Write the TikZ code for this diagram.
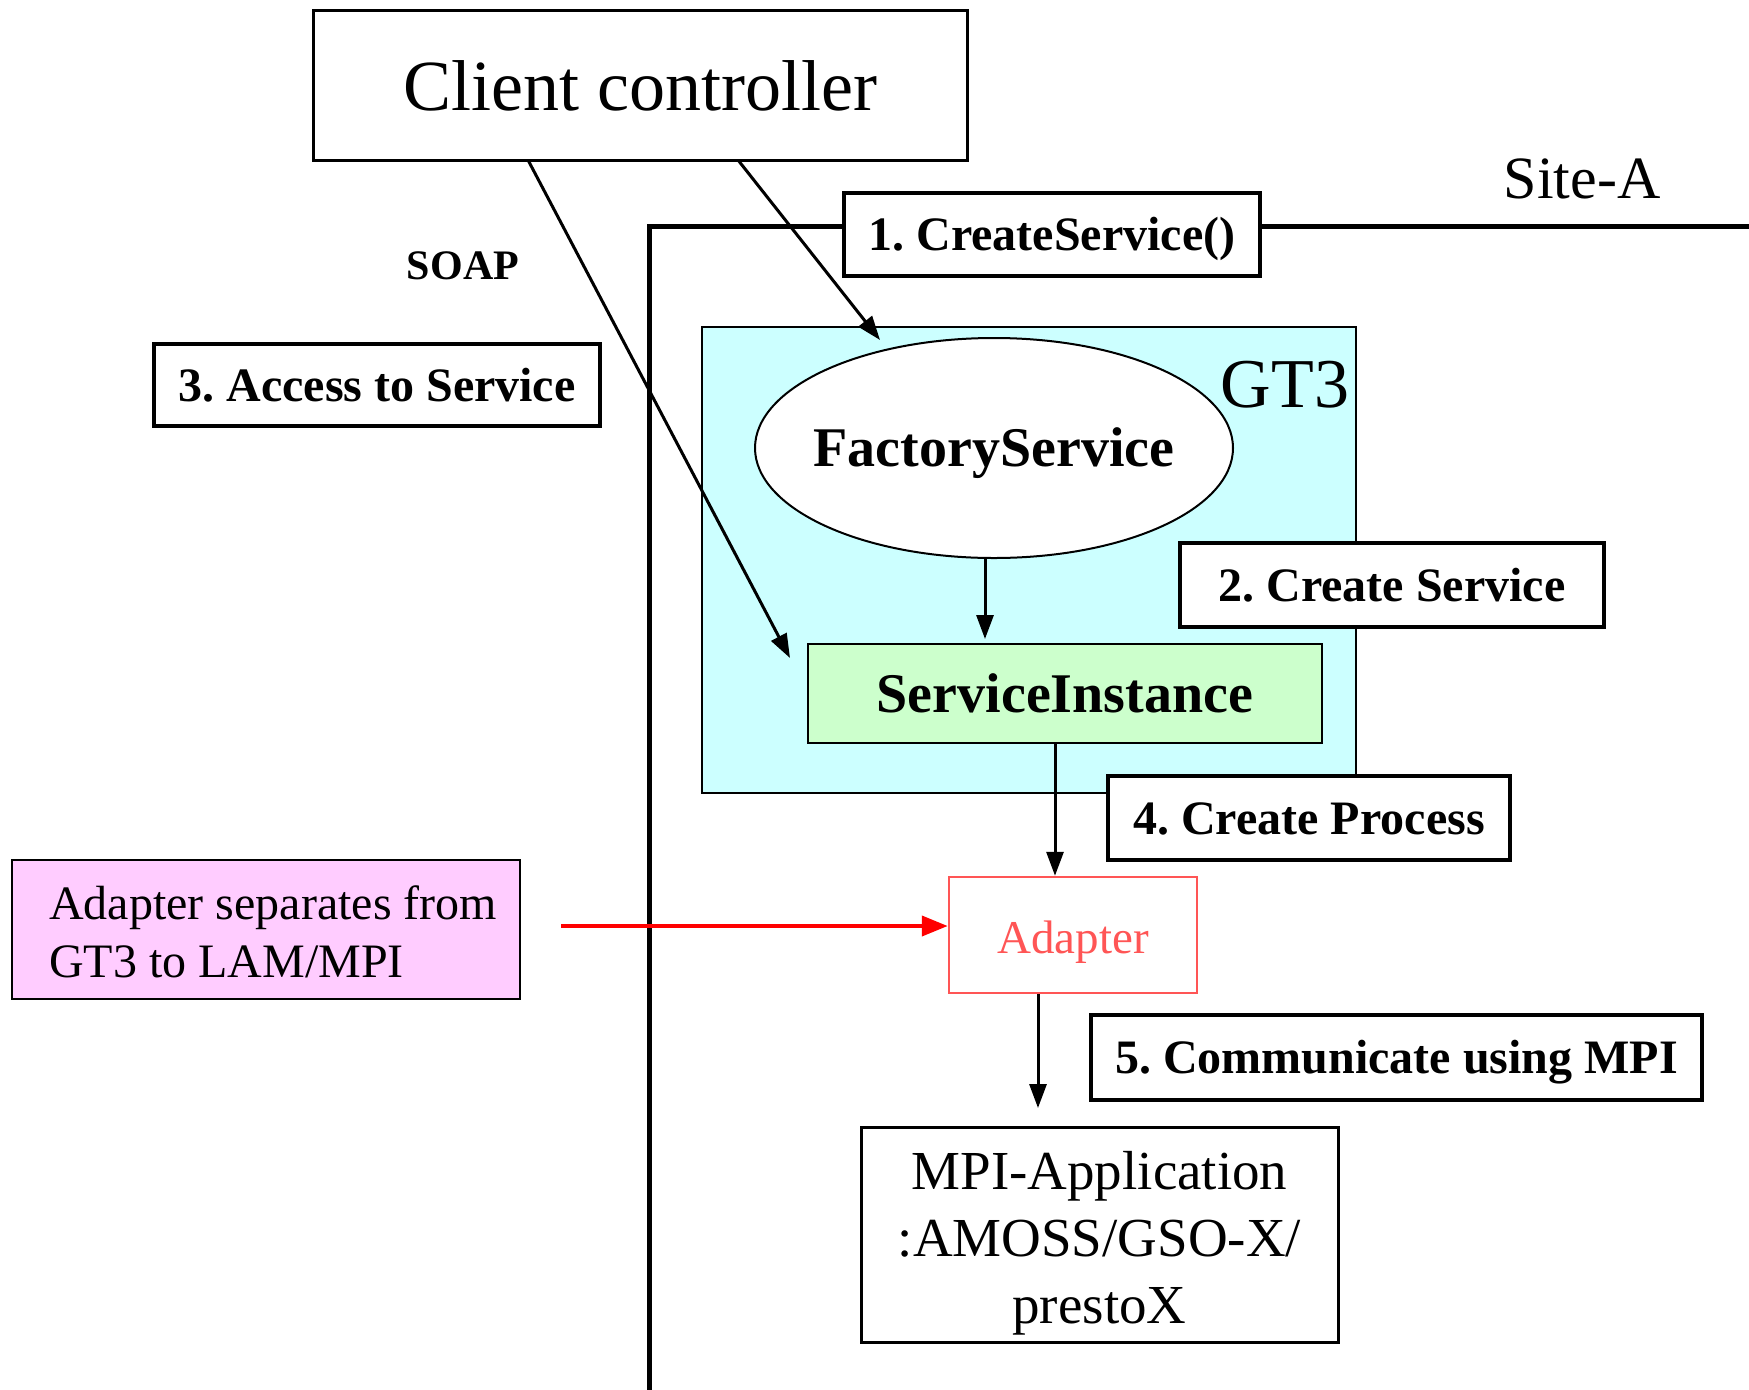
\documentclass[tikz,border=0pt]{standalone}
\usepackage{fontspec}
\setmainfont{Liberation Serif}
\usetikzlibrary{arrows.meta,shapes.geometric}
\definecolor{gtcyan}{HTML}{CCFFFF}
\definecolor{sigreen}{HTML}{CCFFCC}
\definecolor{notepink}{HTML}{FFCCFF}
\definecolor{adred}{HTML}{FF5555}
\frenchspacing
\tikzset{
  capc/.style={text height=#1, text depth=0pt},
  lblbox/.style={draw, line width=4pt, fill=white, inner sep=0pt, capc=32pt,
    font=\bfseries\fontsize{48}{58}\selectfont},
  notetxt/.style={anchor=base west, inner sep=0pt, font=\fontsize{48}{58}\selectfont},
  arr/.style={line width=3pt, -{Triangle[length=24pt,width=17pt]}},
  redarr/.style={line width=4pt, red, -{Triangle[length=26pt,width=20pt]}},
}
\begin{document}
\begin{tikzpicture}[x=1pt,y=-1pt]
\useasboundingbox (0,0) rectangle (1749,1390);
% site frame
\draw[line width=5pt] (649,1395) -- (649,226) -- (1755,226);
\node[capc=40pt, font=\fontsize{60}{72}\selectfont] (siteA) at (1582,178) {Site-A};
% client controller
\node[draw, line width=3pt, fill=white, minimum width=654pt, minimum height=150pt, inner sep=0pt] (cc) at (640,85) {};
\node[capc=47.5pt, font=\fontsize{72}{86}\selectfont] (cctext) at (640,87) {Client controller};
\node[capc=28pt, font=\bfseries\fontsize{42}{50}\selectfont] (soap) at (463,265) {SOAP};
\node[lblbox, minimum width=416pt, minimum height=83pt] (lab1) at (1052,234.5) {1. CreateService()};
\node[lblbox, minimum width=446pt, minimum height=82pt] (lab3) at (377,385) {3. Access to Service};
% GT3 container
\node[draw, line width=2pt, fill=gtcyan, minimum width=654pt, minimum height=466pt, inner sep=0pt] (gt3) at (1029,560) {};
\node[capc=46pt, font=\fontsize{70}{84}\selectfont] (gt3lab) at (1285,384) {GT3};
\node[draw, ellipse, line width=2pt, fill=white, minimum width=478pt, minimum height=220pt, inner sep=0pt] (fs) at (994,448) {};
\node[capc=37pt, font=\bfseries\fontsize{56}{67}\selectfont] (fstext) at (fs.center) {FactoryService};
\node[lblbox, minimum width=424pt, minimum height=84pt] (lab2) at (1392,585) {2. Create Service};
\node[draw, line width=2.5pt, fill=sigreen, minimum width=514pt, minimum height=99pt, inner sep=0pt,
  capc=37pt, font=\bfseries\fontsize{56}{67}\selectfont] (si) at (1065,693.5) {ServiceInstance};
\node[lblbox, minimum width=402pt, minimum height=84pt] (lab4) at (1309,818) {4. Create Process};
\node[draw=adred, line width=2.5pt, fill=white, minimum width=248pt, minimum height=116pt, inner sep=0pt] (ad) at (1073,935) {};
\node[text=adred, capc=31pt, font=\fontsize{47}{56}\selectfont] (adtext) at (1073,938) {Adapter};
\node[draw, line width=2.5pt, fill=notepink, minimum width=508pt, minimum height=139pt, inner sep=0pt] (note) at (266,929.5) {};
\node[notetxt] (note1) at (49,919) {Adapter separates from};
\node[notetxt] (note2) at (49,977) {GT3 to LAM/MPI};
\node[lblbox, minimum width=611pt, minimum height=85pt] (lab5) at (1396.5,1057.5) {5. Communicate using MPI};
\node[draw, line width=3pt, fill=white, minimum width=477pt, minimum height=215pt, inner sep=0pt] (mpi) at (1099.5,1234.5) {};
\node[text depth=0pt, align=center, font=\fontsize{55}{67}\selectfont] (mpitext) at (1099.5,1237) {MPI-Application\\:AMOSS/GSO-X/\\prestoX};
% connectors
\coordinate (c1s) at (738,160);
\coordinate (c1e) at (880,340);
\coordinate (c3s) at (528,160);
\coordinate (c3e) at (790,658);
\draw[arr] (c1s) -- (c1e);
\draw[arr] (c3s) -- (c3e);
\draw[arr] (fs.south -| 985,0) -- (985,639);
\draw[arr] (si.south -| 1055,0) -- (ad.north -| 1055,0);
\coordinate (c5e) at (1038,1108);
\draw[arr] (ad.south -| 1038,0) -- (c5e);
\coordinate (rs) at (561,926);
\draw[redarr] (rs) -- (ad.west |- 0,926);
\end{tikzpicture}
\end{document}
